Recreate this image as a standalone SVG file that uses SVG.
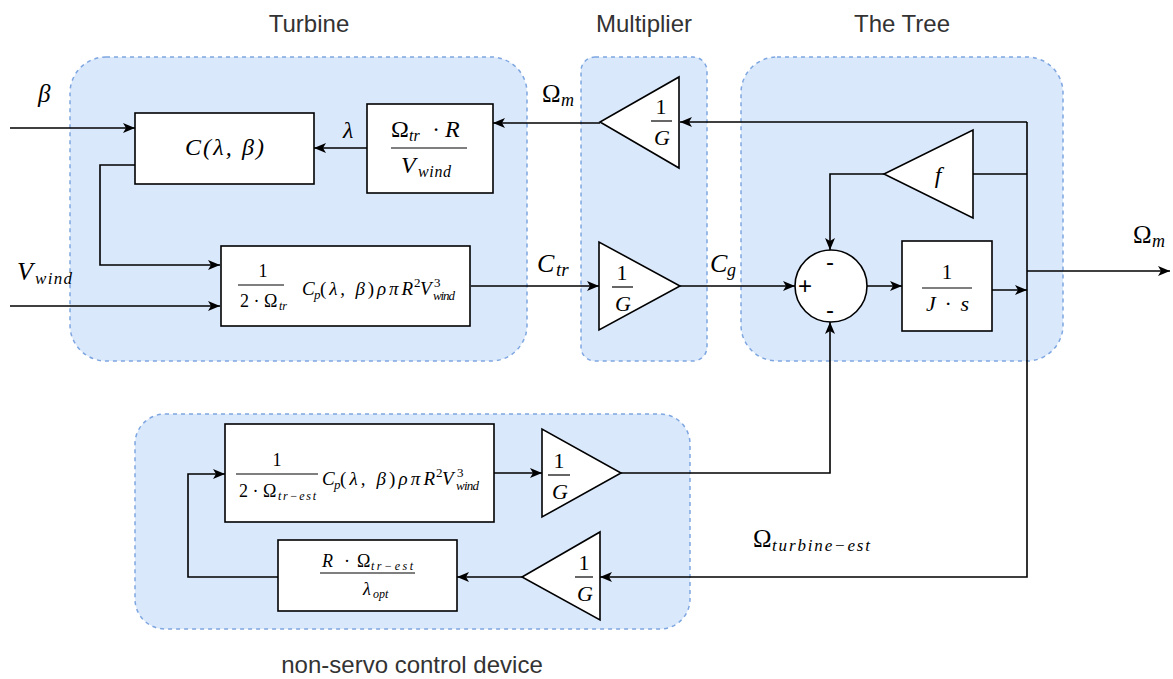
<svg xmlns="http://www.w3.org/2000/svg" width="1173" height="679" viewBox="0 0 1173 679">
<style>
.t{font-family:"Liberation Sans",Arial,sans-serif;font-size:24px;fill:#333}
.m{font-family:"Liberation Serif","Times New Roman",serif;font-style:italic;fill:#000}
.u{font-style:normal}
.grp{fill:#dae8fc;stroke:#7ea6e0;stroke-width:1.5;stroke-dasharray:4 4}
.box{fill:#fff;stroke:#000;stroke-width:1.6}
.fl{fill:none;stroke:#000;stroke-width:1.2}
.c{fill:none;stroke:#000;stroke-width:1.6;marker-end:url(#arr)}
.cn{fill:none;stroke:#000;stroke-width:1.6}
.s{font-family:"Liberation Sans",Arial,sans-serif;font-size:24px;fill:#000}
</style>
<defs>
<marker id="arr" markerWidth="14" markerHeight="12" refX="13" refY="6" orient="auto" markerUnits="userSpaceOnUse">
<path d="M1,1 L13,6 L1,11 L4,6 z" fill="#000"/>
</marker>
</defs>

<g id="grp-turbine">
<rect class="grp" x="70" y="57" width="457" height="304" rx="36"/>
<text class="t" x="309" y="32" text-anchor="middle">Turbine</text>
</g>
<g id="grp-multiplier">
<rect class="grp" x="581" y="57" width="126" height="304" rx="14"/>
<text class="t" x="644" y="32" text-anchor="middle">Multiplier</text>
</g>
<g id="grp-tree">
<rect class="grp" x="741" y="57" width="322" height="304" rx="36"/>
<text class="t" x="902" y="32" text-anchor="middle">The Tree</text>
</g>
<g id="grp-nonservo">
<rect class="grp" x="135" y="414" width="555" height="215" rx="30"/>
<text class="t" x="412" y="673" text-anchor="middle">non-servo control device</text>
</g>

<g id="connectors">
<path class="c" d="M10,128 H135"/>
<path class="c" d="M10,306 H220"/>
<path class="c" d="M135,165 H100 V265 H220"/>
<path class="c" d="M367,148 H314"/>
<path class="c" d="M600,123 H493"/>
<path class="c" d="M1027,122 H680"/>
<path class="c" d="M471,286 H599"/>
<path class="c" d="M680,286 H795"/>
<path class="c" d="M867,286 H902"/>
<path class="c" d="M992,290 H1027"/>
<path class="c" d="M1027,271 H1170"/>
<path class="c" d="M1027,122 V577 H600"/>
<path class="cn" d="M1027,174 H973"/>
<path class="c" d="M884,174 H830 V250"/>
<path class="c" d="M621,473 H830 V322"/>
<path class="c" d="M494,473 H542"/>
<path class="c" d="M522,577 H457"/>
<path class="c" d="M278,577 H188 V474 H225"/>
</g>

<g id="labels">
<text class="m" x="38" y="102" font-size="25">β</text>
<text class="m" x="17" y="280" font-size="26">V</text>
<text class="m" x="35" y="284" font-size="17" textLength="37">wind</text>
<text class="m" x="343" y="138" font-size="24">λ</text>
<text class="m u" x="542" y="102" font-size="25" style="font-style:normal">Ω</text>
<text class="m" x="561" y="106" font-size="18">m</text>
<text class="m" x="537" y="272" font-size="26">C</text>
<text class="m" x="556" y="276" font-size="19">tr</text>
<text class="m" x="710" y="272" font-size="26">C</text>
<text class="m" x="727" y="276" font-size="18">g</text>
<text class="m u" x="1133" y="243" font-size="25" style="font-style:normal">Ω</text>
<text class="m" x="1152" y="247" font-size="18">m</text>
<text class="m u" x="753" y="547" font-size="25" style="font-style:normal">Ω</text>
<text class="m" x="772" y="551" font-size="17" textLength="98">turbine−est</text>
</g>

<g id="node-c">
<rect class="box" x="135" y="113" width="179" height="71"/>
<text class="m" x="185" y="155" font-size="24" textLength="79">C(λ, β)</text>
</g>

<g id="node-lambda">
<rect class="box" x="367" y="104" width="126" height="89"/>
<text class="m u" x="391" y="137" font-size="24" style="font-style:normal">Ω</text>
<text class="m" x="409" y="141" font-size="16">tr</text>
<text class="m u" x="436" y="137" font-size="23" text-anchor="middle" style="font-style:normal">·</text>
<text class="m" x="445" y="137" font-size="24">R</text>
<path class="fl" d="M391,148 H467"/>
<text class="m" x="401" y="173" font-size="24">V</text>
<text class="m" x="418" y="177" font-size="16" textLength="33">wind</text>
</g>

<g id="node-torque">
<rect class="box" x="221" y="246" width="249" height="80"/>
<text class="m u" x="263" y="277" font-size="18" text-anchor="middle" style="font-style:normal">1</text>
<path class="fl" d="M238,285 H284"/>
<text class="m u" x="240" y="307" font-size="18" style="font-style:normal">2 · Ω</text>
<text class="m" x="279" y="310" font-size="12">tr</text>
<text class="m" x="302" y="295" font-size="19">C</text>
<text class="m" x="314" y="299" font-size="13">p</text>
<text class="m" x="320" y="295" font-size="19" textLength="93"><tspan class="u">(</tspan>λ, β<tspan class="u">)</tspan>ρπR</text>
<text class="m u" x="414" y="287" font-size="13" style="font-style:normal">2</text>
<text class="m" x="420" y="295" font-size="19">V</text>
<text class="m u" x="434" y="287" font-size="13" style="font-style:normal">3</text>
<text class="m" x="433" y="300" font-size="13" textLength="22">wind</text>
</g>

<g id="node-gain-top">
<polygon class="box" points="679,77 679,168 600,122"/>
<text class="m u" x="661" y="114" font-size="22" text-anchor="middle" style="font-style:normal">1</text>
<path class="fl" d="M651,121 H672"/>
<text class="m" x="662" y="145" font-size="22" text-anchor="middle">G</text>
</g>

<g id="node-gain-mid">
<polygon class="box" points="599,242 599,330 680,286"/>
<text class="m u" x="622" y="280" font-size="22" text-anchor="middle" style="font-style:normal">1</text>
<path class="fl" d="M612,287 H633"/>
<text class="m" x="623" y="311" font-size="22" text-anchor="middle">G</text>
</g>

<g id="node-f">
<polygon class="box" points="973,130 973,218 884,174"/>
<text class="m" x="938" y="183" font-size="24" text-anchor="middle">f</text>
</g>

<g id="node-sum">
<circle class="box" cx="831" cy="286" r="36"/>
<text class="s" x="830" y="270" text-anchor="middle">-</text>
<text class="s" x="805" y="294" text-anchor="middle" font-size="21">+</text>
<text class="s" x="830" y="318" text-anchor="middle">-</text>
</g>

<g id="node-integrator">
<rect class="box" x="902" y="241" width="90" height="90"/>
<text class="m u" x="947" y="279" font-size="21" text-anchor="middle" style="font-style:normal">1</text>
<path class="fl" d="M922,288 H972"/>
<text class="m" x="926" y="311" font-size="22" textLength="43">J <tspan class="u">·</tspan> s</text>
</g>

<g id="node-est-torque">
<rect class="box" x="225" y="424" width="269" height="98"/>
<text class="m u" x="277" y="466" font-size="18" text-anchor="middle" style="font-style:normal">1</text>
<path class="fl" d="M236,474 H318"/>
<text class="m u" x="239" y="497" font-size="18" style="font-style:normal">2 · Ω</text>
<text class="m" x="278" y="500" font-size="12" textLength="38">tr−est</text>
<text class="m" x="322" y="485" font-size="19">C</text>
<text class="m" x="334" y="489" font-size="13">p</text>
<text class="m" x="340" y="485" font-size="19" textLength="95"><tspan class="u">(</tspan>λ, β<tspan class="u">)</tspan>ρπR</text>
<text class="m u" x="436" y="477" font-size="13" style="font-style:normal">2</text>
<text class="m" x="442" y="485" font-size="19">V</text>
<text class="m u" x="457" y="477" font-size="13" style="font-style:normal">3</text>
<text class="m" x="456" y="490" font-size="13" textLength="23">wind</text>
</g>

<g id="node-gain-est1">
<polygon class="box" points="542,429 542,517 621,473"/>
<text class="m u" x="559" y="468" font-size="22" text-anchor="middle" style="font-style:normal">1</text>
<path class="fl" d="M548,475 H570"/>
<text class="m" x="560" y="499" font-size="22" text-anchor="middle">G</text>
</g>

<g id="node-gain-est2">
<polygon class="box" points="600,532 600,620 522,577"/>
<text class="m u" x="584" y="570" font-size="22" text-anchor="middle" style="font-style:normal">1</text>
<path class="fl" d="M575,577 H593"/>
<text class="m" x="585" y="601" font-size="22" text-anchor="middle">G</text>
</g>

<g id="node-est-speed">
<rect class="box" x="278" y="540" width="179" height="71"/>
<text class="m" x="322" y="567" font-size="18">R</text>
<text class="m u" x="347" y="567" font-size="18" text-anchor="middle" style="font-style:normal">·</text>
<text class="m u" x="357" y="567" font-size="18" style="font-style:normal">Ω</text>
<text class="m" x="371" y="570" font-size="12" textLength="42">tr−est</text>
<path class="fl" d="M320,573 H415"/>
<text class="m" x="363" y="595" font-size="18">λ</text>
<text class="m" x="373" y="598" font-size="12">opt</text>
</g>
</svg>
